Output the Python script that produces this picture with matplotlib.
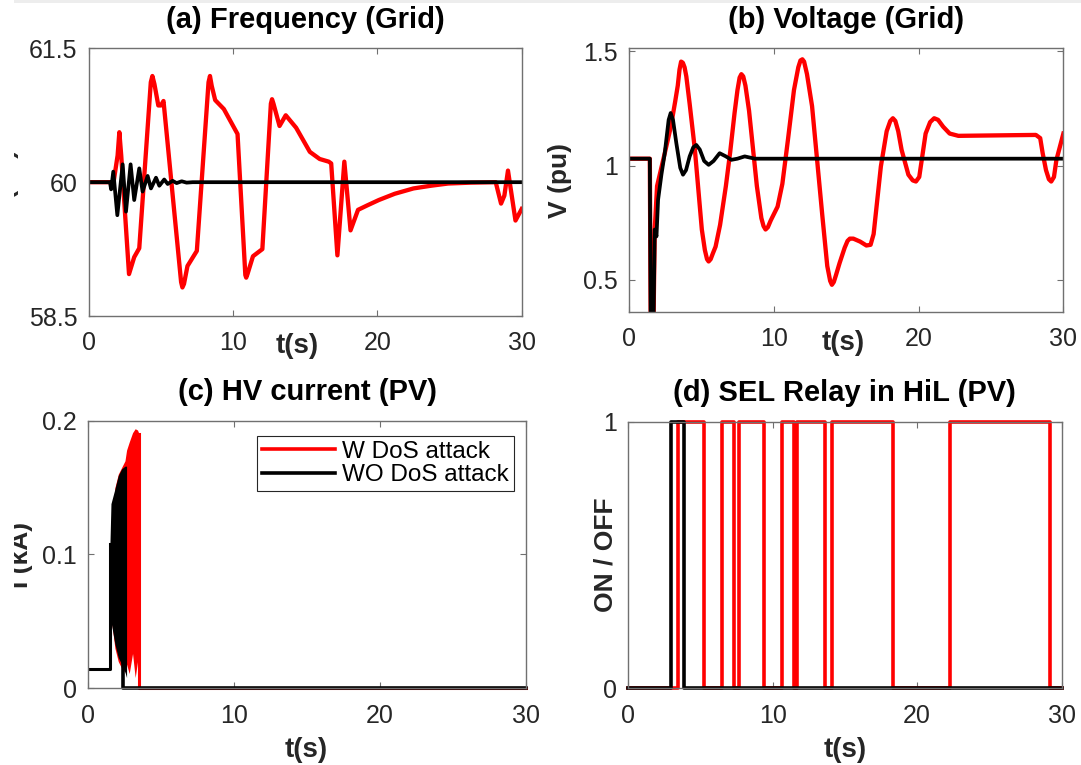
import numpy as np
import matplotlib
matplotlib.use('Agg')
import matplotlib.pyplot as plt
from matplotlib.patches import Rectangle

plt.rcParams['font.family'] = ['Liberation Sans', 'DejaVu Sans']

# (a) grid frequency
freq_w_t = [0, 1.72, 2.0, 2.12, 2.25, 2.79, 3.15, 3.5, 4.3, 4.41, 4.55, 4.82, 5.0, 5.18,
            6.4, 6.49, 6.6, 6.84, 7.49, 8.3, 8.4, 8.52, 8.76, 9.36, 10.31, 10.85, 10.91, 11.0,
            11.38, 12.03, 12.62, 12.7, 12.8, 13.22, 13.65, 14.37, 15.32, 16.0, 16.63, 16.8,
            17.23, 17.71, 18.14, 18.66, 19.3, 20.1, 21.2, 22.5, 23.7, 24.9, 26.5, 28.2,
            28.57, 28.8, 29.05, 29.57, 30]
freq_w = [60, 60, 60.3, 60.56, 60.3, 58.97, 59.16, 59.26, 61.12, 61.19, 61.1, 60.86, 60.86, 60.91,
          58.88, 58.82, 58.86, 59.06, 59.23, 61.12, 61.19, 61.08, 60.92, 60.82, 60.54, 58.96, 58.93, 58.97,
          59.17, 59.25, 60.88, 60.93, 60.88, 60.63, 60.75, 60.61, 60.34, 60.26, 60.23, 60.21,
          59.18, 60.23, 59.46, 59.69, 59.74, 59.80, 59.87, 59.93, 59.96, 59.985, 59.995, 60,
          59.76, 59.85, 60.13, 59.57, 59.70]
freq_wo_t = [0, 1.47, 1.55, 1.70, 1.98, 2.35, 2.58, 2.90, 3.15, 3.50, 3.73, 4.08, 4.31, 4.66,
             4.89, 5.23, 5.47, 5.81, 6.09, 6.44, 6.78, 7.2, 30]
freq_wo = [60, 60, 59.92, 60.118, 59.63, 60.20, 59.67, 60.20, 59.80, 60.155, 59.895, 60.07, 59.93, 60.05,
           59.96, 60.03, 59.98, 60.015, 59.99, 60.01, 59.995, 60, 60]

# (b) grid voltage
volt_w_t = [0, 1.45, 1.52, 1.68, 1.79, 1.95, 2.43, 2.9, 3.2, 3.38, 3.5, 3.61, 3.73, 3.85, 3.97,
            4.2, 4.56, 5.04, 5.25, 5.4, 5.51, 5.65, 5.8, 5.99, 6.3, 6.7, 7.0, 7.3, 7.5, 7.65,
            7.77, 7.9, 8.05, 8.3, 8.84, 9.15, 9.3, 9.44, 9.6, 9.8, 10.27, 10.6, 10.98, 11.4, 11.7,
            11.85, 11.98, 12.1, 12.3, 12.65, 13.36, 13.7, 13.9, 14.02, 14.15, 14.3, 14.55, 14.9, 15.1, 15.26,
            15.5, 15.97, 16.4, 16.69, 16.9, 17.4, 17.8, 18.05, 18.23, 18.4, 18.6, 18.83, 19.3, 19.6, 19.82,
            20.05, 20.49, 20.8, 21.08, 21.35, 21.7, 22.15, 22.75, 28.1, 28.4, 28.57, 28.8, 29.0, 29.16, 29.35,
            29.52, 29.75, 30]
volt_w = [1.03, 1.03, 0.2, 0.2, 0.72, 0.91, 1.04, 1.17, 1.28, 1.35, 1.42, 1.455, 1.45, 1.43, 1.39,
          1.27, 1.07, 0.72, 0.63, 0.59, 0.58, 0.59, 0.615, 0.645, 0.74, 0.91, 1.06, 1.23, 1.33, 1.385,
          1.40, 1.39, 1.35, 1.24, 0.91, 0.77, 0.735, 0.72, 0.73, 0.76, 0.82, 0.92, 1.11, 1.33, 1.43,
          1.46, 1.465, 1.455, 1.40, 1.26, 0.78, 0.56, 0.495, 0.478, 0.49, 0.52, 0.573, 0.64, 0.67, 0.68,
          0.68, 0.667, 0.65, 0.653, 0.7, 0.996, 1.15, 1.195, 1.207, 1.195, 1.15, 1.069, 0.96, 0.935, 0.93,
          0.95, 1.14, 1.19, 1.207, 1.2, 1.17, 1.14, 1.13, 1.134, 1.12, 1.054, 0.98, 0.94, 0.93, 0.95,
          1.025, 1.08, 1.14]
volt_wo_t = [0, 1.45, 1.52, 1.68, 1.79, 1.91, 2.02, 2.25, 2.48, 2.75, 2.89, 3.05, 3.28, 3.55, 3.74,
             3.95, 4.2, 4.45, 4.66, 4.9, 5.2, 5.51, 5.85, 6.27, 6.7, 7.08, 7.5, 8.0, 8.7, 30]
volt_wo = [1.03, 1.03, 0.2, 0.2, 0.72, 0.69, 0.85, 0.96, 1.054, 1.2, 1.23, 1.2, 1.098, 0.99, 0.96,
           0.98, 1.04, 1.08, 1.09, 1.07, 1.02, 1.003, 1.02, 1.054, 1.04, 1.025, 1.03, 1.04, 1.03, 1.03]

# (c) HV current, envelope of the fast oscillation
cur_pre_t = [0, 1.49, 1.49]
cur_pre = [0.0145, 0.0145, 0.108]
env_wo_t = [1.49, 1.56, 1.83, 2.06, 2.29, 2.52, 2.63]
env_wo_hi = [0.108, 0.138, 0.149, 0.159, 0.164, 0.166, 0.166]
env_wo_lo = [0.058, 0.050, 0.033, 0.023, 0.018, 0.012, 0.008]
env_w_t = [1.6, 1.83, 2.06, 2.29, 2.52, 2.63, 2.81, 3.04, 3.22, 3.38, 3.49]
env_w_hi = [0.12, 0.15, 0.16, 0.165, 0.17, 0.178, 0.184, 0.191, 0.194, 0.193, 0.19]
env_w_lo = [0.05, 0.03, 0.02, 0.015, 0.012, 0.018, 0.011, 0.026, 0.008, 0.02, 0.01]
cur_off_wo_t = [2.4, 2.4, 30]
cur_off_wo = [0.018, 0, 0]
cur_off_w_t = [3.49, 3.49, 30]
cur_off_w = [0.19, 0, 0]

# (d) relay state
relay_w_t = [0, 3.44, 5.24, 6.5, 7.31, 7.65, 9.38, 10.65, 11.45, 11.69, 13.64, 14.1, 18.36, 22.27, 29.2, 30]
relay_w = [0, 1, 0, 1, 0, 1, 0, 1, 0, 1, 0, 1, 0, 1, 0, 0]
relay_wo_t = [0, 2.94, 3.86, 30]
relay_wo = [0, 1, 0, 0]

RED = '#ff0000'
GREY = '#707070'
TXT = '#262626'

fig = plt.figure(figsize=(10.81, 7.65), dpi=100)
ax_a = fig.add_axes([0.0821, 0.5869, 0.4005, 0.3499])
ax_b = fig.add_axes([0.5817, 0.5925, 0.4020, 0.3443])
ax_c = fig.add_axes([0.0816, 0.1003, 0.4048, 0.3498])
ax_d = fig.add_axes([0.5811, 0.1003, 0.4010, 0.3485])


def style(ax, title, ylab, ylab_x, xlab_xy):
    ax.set_xlim(0, 30)
    ax.set_xticks([0, 10, 20, 30])
    for s in ax.spines.values():
        s.set_color(GREY)
        s.set_linewidth(1.0)
    ax.tick_params(direction='in', length=4, width=0.8, color=GREY, top=True, right=True,
                   labelsize=18, labelcolor=TXT)
    ax.tick_params(axis='x', pad=11)
    ax.tick_params(axis='y', pad=8)
    ax.set_title(title, fontsize=21, fontweight='bold', pad=15)
    ax.set_xlabel('t(s)', fontsize=20, fontweight='bold', color=TXT)
    ax.xaxis.set_label_coords(*xlab_xy)
    ax.set_ylabel(ylab, fontsize=19, fontweight='bold', color=TXT)
    ax.yaxis.set_label_coords(ylab_x, 0.5)


# (a)
ax_a.plot(freq_w_t, freq_w, color=RED, lw=3.1)
ax_a.plot(freq_wo_t, freq_wo, color='k', lw=2.7)
ax_a.set_ylim(58.5, 61.5)
ax_a.set_yticks([58.5, 60, 61.5])
ax_a.set_yticklabels(['58.5', '60', '61.5'])
style(ax_a, '(a) Frequency (Grid)', 'f (Hz)', -0.161, (0.481, -0.064))

# (b)
ax_b.plot(volt_w_t, volt_w, color=RED, lw=3.1)
ax_b.plot(volt_wo_t, volt_wo, color='k', lw=2.7)
ax_b.set_ylim(0.36, 1.513)
ax_b.set_yticks([0.5, 1, 1.5])
ax_b.set_yticklabels(['0.5', '1', '1.5'])
style(ax_b, '(b) Voltage (Grid)', 'V (pu)', -0.131, (0.494, -0.069))

# (c)
ax_c.fill_between(env_w_t, env_w_lo, env_w_hi, color=RED, lw=0)
ax_c.plot(cur_off_w_t, cur_off_w, color=RED, lw=2.2, clip_on=False)
ax_c.fill_between(env_wo_t, env_wo_lo, env_wo_hi, color='k', lw=0)
ax_c.plot(cur_pre_t, cur_pre, color='k', lw=2.2)
ax_c.plot(cur_off_wo_t, cur_off_wo, color='k', lw=2.6, clip_on=False)
ax_c.plot([], [], color=RED, lw=2.6, label='W DoS attack')
ax_c.plot([], [], color='k', lw=2.6, label='WO DoS attack')
ax_c.set_ylim(0, 0.2)
ax_c.set_yticks([0, 0.1, 0.2])
ax_c.set_yticklabels(['0', '0.1', '0.2'])
style(ax_c, '(c) HV current (PV)', 'I (kA)', -0.126, (0.498, -0.181))
leg = ax_c.legend(loc='upper right', bbox_to_anchor=(0.9726, 0.943), borderaxespad=0,
                  fontsize=17.5, labelspacing=0.05, borderpad=0.2, handlelength=3.0,
                  handletextpad=0.3, fancybox=False, framealpha=1)
leg.get_frame().set_edgecolor(TXT)
leg.get_frame().set_linewidth(0.8)

# (d)
ax_d.step(relay_w_t, relay_w, where='post', color=RED, lw=2.6, clip_on=False)
ax_d.step(relay_wo_t, relay_wo, where='post', color='k', lw=2.6, clip_on=False)
ax_d.set_ylim(0, 1)
ax_d.set_yticks([0, 1])
style(ax_d, '(d) SEL Relay in HiL (PV)', 'ON / OFF', -0.024, (0.5, -0.1815))

# screenshot edges: blank strip at left, light bar at top
fig.add_artist(Rectangle((0, 0), 14 / 1081, 1, transform=fig.transFigure,
                         facecolor='white', edgecolor='none', zorder=10))
fig.add_artist(Rectangle((14 / 1081, 1 - 3 / 765), 1, 3 / 765, transform=fig.transFigure,
                         facecolor='#ededed', edgecolor='none', zorder=10))

fig.savefig('out.png', dpi=100)
